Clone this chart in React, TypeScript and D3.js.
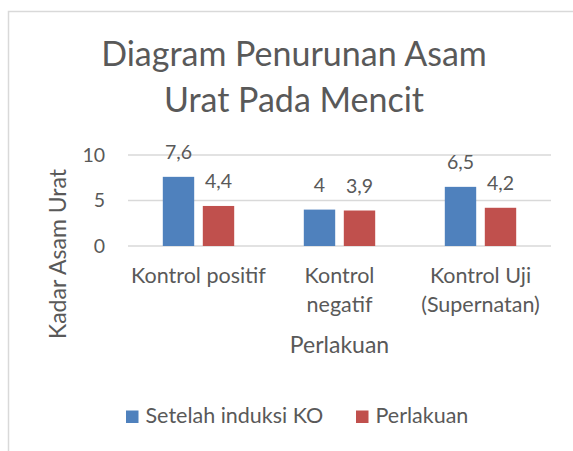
import * as d3 from 'd3'
import * as React from 'react'

// Chart data
const categories = ['Kontrol positif', 'Kontrol negatif', 'Kontrol Uji (Supernatan)']
const categoryLines = [['Kontrol positif'], ['Kontrol', 'negatif'], ['Kontrol Uji', '(Supernatan)']]
const seriesNames = ['Setelah induksi KO', 'Perlakuan']
const setelahInduksi = [7.6, 4, 6.5]
const perlakuan = [4.4, 3.9, 4.2]
const yTicks = [0, 5, 10]

const colors = ['#4f81bd', '#c0504d']
const textColor = '#595959'
const font = 'Lato, "Noto Sans", sans-serif'

const W = 573
const H = 451

export default function App() {
  const x0 = d3.scaleBand<string>().domain(categories).range([128, 551]).padding(0)
  const x1 = d3.scaleBand<string>()
    .domain(seriesNames)
    .range([0, x0.bandwidth()])
    .paddingInner(0.215)
    .paddingOuter(0.87)
  const y = d3.scaleLinear().domain([0, 10]).range([246, 155])
  const fmt = (v: number) => String(v).replace('.', ',')

  const series = [setelahInduksi, perlakuan]

  return (
    <svg width={W} height={H} style={{ position: 'absolute', left: 0, top: 0 }} fontFamily={font}>
      <rect x={0} y={0} width={W} height={H} fill="#fff" />
      {/* chart frame, runs off the right and bottom */}
      <rect x={8.5} y={11.5} width={W + 50} height={H + 50} fill="none" stroke="#d9d9d9" strokeWidth={1.5} />

      {/* title */}
      <text x={294} y={66} textAnchor="middle" fontSize={34} fill={textColor}>Diagram Penurunan Asam</text>
      <text x={294} y={111.5} textAnchor="middle" fontSize={34} fill={textColor}>Urat Pada Mencit</text>

      {/* gridlines */}
      {yTicks.map(t => (
        <g key={t}>
          <line x1={128} x2={551} y1={y(t)} y2={y(t)} stroke="#d9d9d9" strokeWidth={1.5} />
          <text x={105} y={y(t)} dy="0.35em" textAnchor="end" fontSize={19.5} fill={textColor}>{t}</text>
        </g>
      ))}

      {/* bars */}
      {categories.map((c, ci) => (
        <g key={c} transform={`translate(${x0(c)},0)`}>
          {seriesNames.map((s, si) => {
            const v = series[si][ci]
            const bx = x1(s)!
            return (
              <g key={s}>
                <rect x={bx} y={y(v)} width={x1.bandwidth()} height={y(0) - y(v)} fill={colors[si]} />
                <text x={bx + x1.bandwidth() / 2} y={y(v) - 18} textAnchor="middle" fontSize={19.5} fill={textColor}>{fmt(v)}</text>
              </g>
            )
          })}
        </g>
      ))}

      {/* category labels */}
      {categories.map((c, ci) => (
        <text key={c} x={x0(c)! + x0.bandwidth() / 2} y={283} textAnchor="middle" fontSize={21.5} fill={textColor}>
          {categoryLines[ci].map((ln, li) => (
            <tspan key={li} x={x0(c)! + x0.bandwidth() / 2} dy={li === 0 ? 0 : 28.5}>{ln}</tspan>
          ))}
        </text>
      ))}

      {/* axis titles */}
      <text x={339.5} y={352.5} textAnchor="middle" fontSize={23} fill={textColor}>Perlakuan</text>
      <text transform="translate(66,254) rotate(-90)" textAnchor="middle" fontSize={23} fill={textColor}>Kadar Asam Urat</text>

      {/* legend */}
      <rect x={126} y={410.5} width={12.5} height={12.5} fill={colors[0]} />
      <text x={145.5} y={423} fontSize={21.5} fill={textColor}>{seriesNames[0]}</text>
      <rect x={356} y={410.5} width={12.5} height={12.5} fill={colors[1]} />
      <text x={375.5} y={423} fontSize={21.5} fill={textColor}>{seriesNames[1]}</text>
    </svg>
  )
}
